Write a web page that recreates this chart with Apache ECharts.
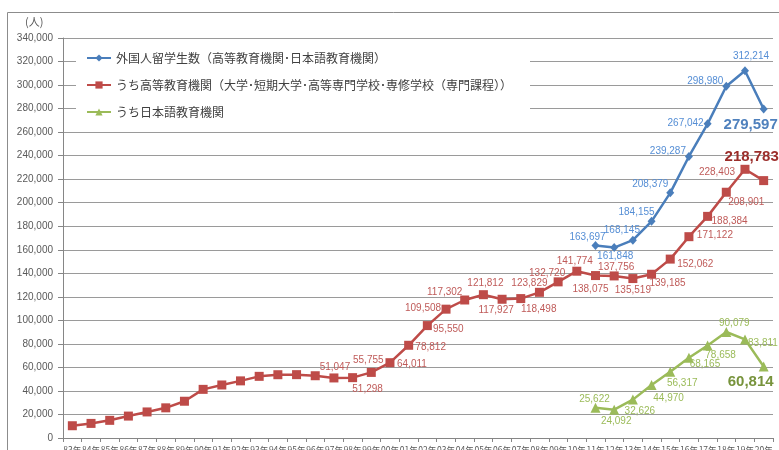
<!DOCTYPE html>
<html>
<head>
<meta charset="utf-8">
<title>外国人留学生数の推移</title>
<script src="https://cdn.jsdelivr.net/npm/echarts@6/dist/echarts.min.js"></script>
<style>
	html, body { margin: 0; padding: 0; background: #fff; }
	#main { width: 779px; height: 450px; }
</style>
</head>
<body>
<div id="main"></div>
<script>
	// 年（1983〜2020）
	var years = ['83年','84年','85年','86年','87年','88年','89年','90年','91年','92年',
		'93年','94年','95年','96年','97年','98年','99年','00年','01年','02年',
		'03年','04年','05年','06年','07年','08年','09年','10年','11年','12年',
		'13年','14年','15年','16年','17年','18年','19年','20年'];

	// 外国人留学生数（2011〜2020）
	var totalVals = [163697, 161848, 168145, 184155, 208379, 239287, 267042, 298980, 312214, 279597];
	// うち高等教育機関（1983〜2020）
	var higherEdVals = [10428, 12410, 15009, 18631, 22154, 25643, 31251, 41347, 45066, 48561,
		52405, 53787, 53847, 52921, 51047, 51298, 55755, 64011, 78812, 95550,
		109508, 117302, 121812, 117927, 118498, 123829, 132720, 141774, 138075, 137756,
		135519, 139185, 152062, 171122, 188384, 208901, 228403, 218783];
	// うち日本語教育機関（2011〜2020）
	var langSchoolVals = [25622, 24092, 32626, 44970, 56317, 68165, 78658, 90079, 83811, 60814];

	var seriesNames = ['外国人留学生数（高等教育機関･日本語教育機関）',
		'うち高等教育機関（大学･短期大学･高等専門学校･専修学校（専門課程））',
		'うち日本語教育機関'];

	// ラベルのずらし量 [dx, dy]（点の中心から）
	var blueOffsets = [[-8,-8],[1,9],[-11,-10],[-15,-9],[-20,-9],[-21,-5],[-22,-1],[-21,-5],[6,-14],[-13,16]];
	var redLabelStart = 14; // 97年から
	var redOffsets = [[1,-11],[15,12],[-3,-12],[22,2],[22,2],[21,4],[-23,-1],[-20,-8],[2,-11],[-6,11],
		[18,11],[-10,-9],[-11,-9],[-2,-10],[-5,14],[2,-9],[0,12],[16,9],[25,5],[26,-1],
		[22,5],[20,10],[-28,3],[-12,-24]];
	var greenOffsets = [[-1,-9],[2,12],[7,12],[17,13],[12,12],[16,6],[13,10],[8,-9],[18,4],[-13,15]];

	var numFont = 'Liberation Sans';

	function fmt(v) {
		return v.toLocaleString('en-US');
	}

	// 値とラベル位置からデータを作る
	function buildData(vals, offsets, labelStart, padTo, color, boldColor) {
		var out = [];
		for (var k = 0; k < padTo - vals.length; k++) out.push(null);
		for (var i = 0; i < vals.length; i++) {
			var j = i - labelStart;
			if (j < 0) {
				out.push({ value: vals[i], label: { show: false } });
				continue;
			}
			var last = i === vals.length - 1;
			out.push({
				value: vals[i],
				label: {
					show: true,
					position: 'inside',
					offset: offsets[j],
					formatter: function (p) { return fmt(p.value); },
					color: last ? boldColor : color,
					fontSize: last ? 15 : 10,
					fontWeight: last ? 'bold' : 'normal',
					fontFamily: numFont,
					textBorderWidth: 0
				}
			});
		}
		return out;
	}

	var chart = echarts.init(document.getElementById('main'));

	var option = {
		animation: false,
		backgroundColor: '#fff',
		grid: {
			left: 63,
			right: 6,
			top: 38,
			bottom: 12,
			containLabel: false,
			outerBoundsMode: 'none'
		},
		graphic: [
			{
				type: 'rect',
				shape: { x: 7.5, y: 12.5, width: 800, height: 500 },
				style: { fill: 'none', stroke: '#8c8c8c', lineWidth: 1 },
				silent: true
			},
			{
				type: 'text',
				left: 25,
				top: 16,
				style: { text: '(人)', fontSize: 11, fill: '#595959', fontFamily: 'Noto Sans CJK JP' }
			}
		],
		legend: {
			orient: 'vertical',
			left: 76,
			top: 45,
			itemGap: 15,
			itemWidth: 24,
			itemHeight: 9,
			backgroundColor: '#fff',
			padding: [7, 18, 8, 10],
			textStyle: { fontSize: 12, color: '#404040', fontFamily: 'Noto Sans CJK JP' },
			data: seriesNames
		},
		xAxis: {
			type: 'category',
			data: years,
			boundaryGap: true,
			axisLine: { lineStyle: { color: '#868686' } },
			axisTick: { show: true, length: 4, lineStyle: { color: '#868686' } },
			axisLabel: { interval: 0, fontSize: 8.5, margin: 8, color: '#595959', fontFamily: 'Noto Sans CJK JP' }
		},
		yAxis: {
			type: 'value',
			min: 0,
			max: 340000,
			interval: 20000,
			axisLine: { show: true, lineStyle: { color: '#868686' } },
			axisTick: { show: true, length: 5, lineStyle: { color: '#868686' } },
			axisLabel: {
				margin: 10,
				fontSize: 10,
				color: '#595959',
				fontFamily: numFont,
				formatter: function (v) { return fmt(v); }
			},
			splitLine: { lineStyle: { color: '#9a9a9a', width: 1 } }
		},
		series: [
			{
				name: seriesNames[0],
				type: 'line',
				color: '#4A7EBB',
				symbol: 'diamond',
				symbolSize: [8, 9],
				lineStyle: { width: 2.5 },
				data: buildData(totalVals, blueOffsets, 0, years.length, '#558ED5', '#4F81BD'),
				z: 3
			},
			{
				name: seriesNames[1],
				type: 'line',
				color: '#BE4B48',
				symbol: 'rect',
				symbolSize: 9,
				lineStyle: { width: 2.5 },
				data: buildData(higherEdVals, redOffsets, redLabelStart, years.length, '#BF5A58', '#9B2D2A'),
				z: 2
			},
			{
				name: seriesNames[2],
				type: 'line',
				color: '#9BBB59',
				symbol: 'triangle',
				symbolSize: 10,
				lineStyle: { width: 2.5 },
				data: buildData(langSchoolVals, greenOffsets, 0, years.length, '#9BBB59', '#77933C'),
				z: 2
			}
		]
	};

	chart.setOption(option);
</script>
</body>
</html>
